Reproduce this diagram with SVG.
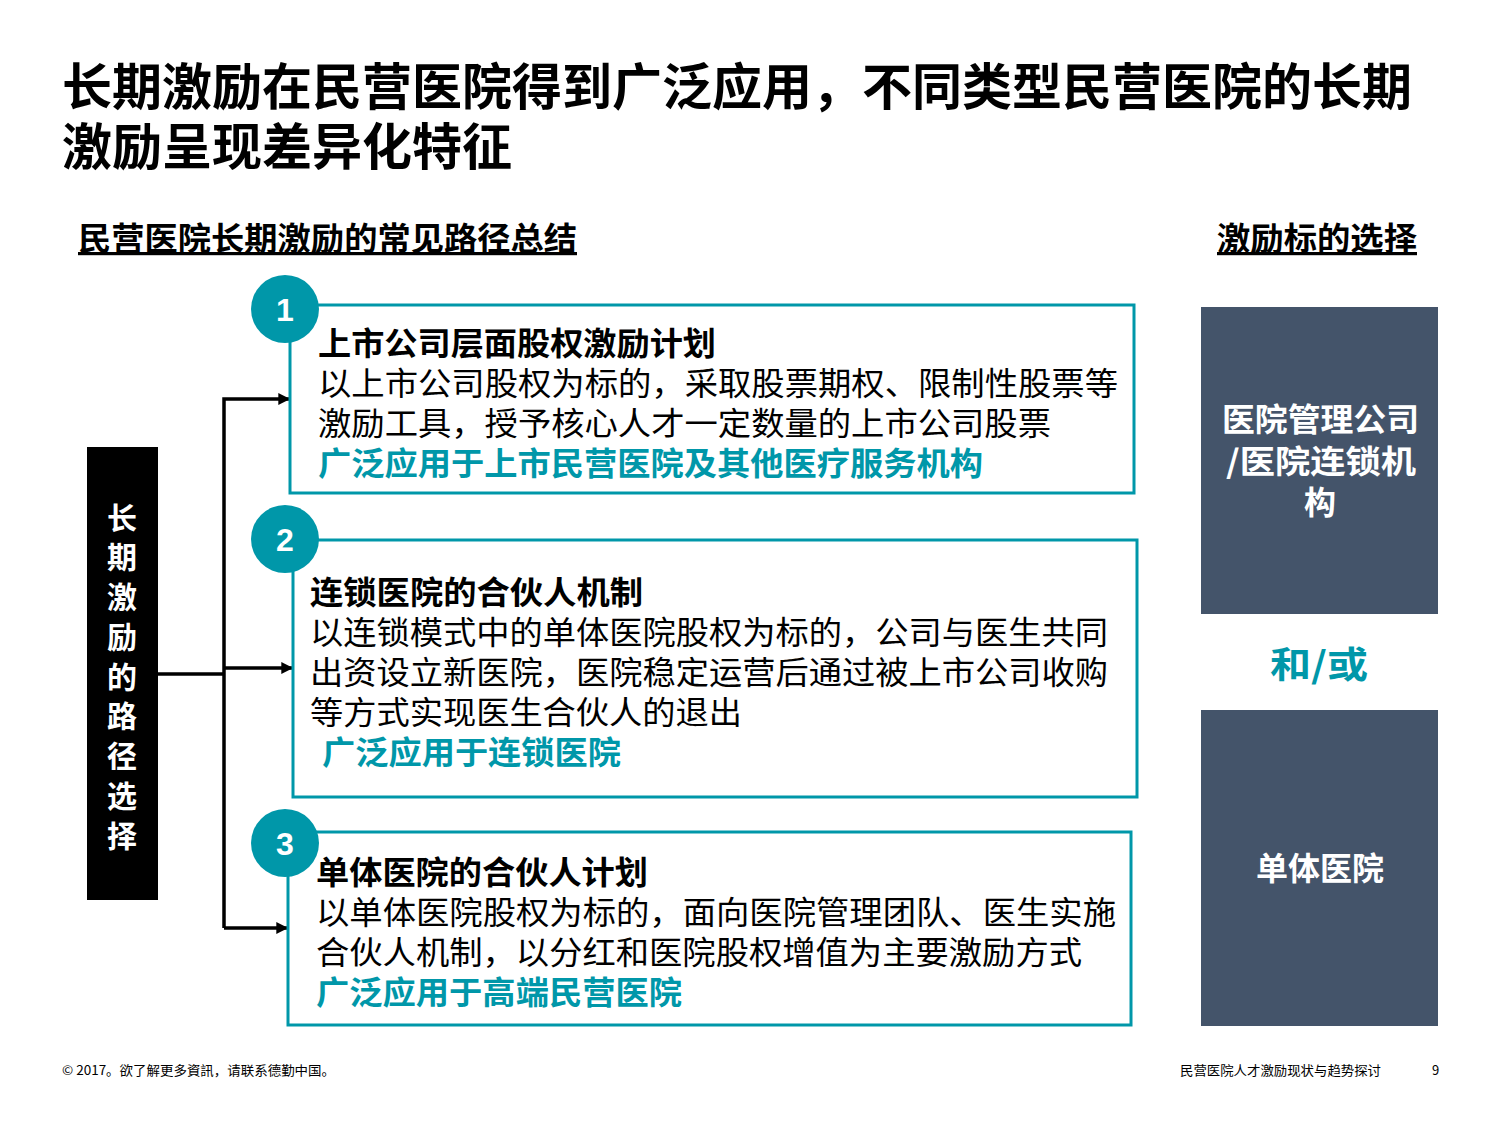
<svg xmlns="http://www.w3.org/2000/svg" width="1500" height="1125" viewBox="0 0 1500 1125">
<defs>
<style>
text{font-family:"Noto Sans CJK SC","Noto Sans",sans-serif}
.t{font-size:50px;font-weight:bold;fill:#000}
.h{font-size:32px;font-weight:bold;fill:#000;text-decoration:underline}
.bt{font-size:32px;font-weight:bold;fill:#000}
.bd{font-size:32px;fill:#000}
.tl{font-size:32px;font-weight:bold;fill:#0097A9}
.box{fill:#fff;stroke:#0097A9;stroke-width:3}
.cir{fill:#0097A9}
.num{font-size:32px;font-weight:bold;fill:#fff;font-family:"Liberation Sans","DejaVu Sans",sans-serif}
.pnl{fill:#44546A}
.pt{font-size:32px;font-weight:bold;fill:#fff}
.vt{font-size:30px;font-weight:bold;fill:#fff}
.ft{font-size:13px;fill:#000}
.ln{fill:none;stroke:#000;stroke-width:3.5}
</style>
<marker id="ah" viewBox="0 0 10 10" refX="9" refY="5" markerWidth="4.2" markerHeight="3.4" orient="auto" markerUnits="strokeWidth">
<path d="M0,0 L10,5 L0,10 z" fill="#000"/>
</marker>
</defs>
<rect width="1500" height="1125" fill="#fff"/>
<g id="title">
<text class="t" x="62" y="105" textLength="1350" lengthAdjust="spacingAndGlyphs">长期激励在民营医院得到广泛应用，不同类型民营医院的长期</text>
<text class="t" x="62" y="165" textLength="450" lengthAdjust="spacingAndGlyphs">激励呈现差异化特征</text>
</g>
<g id="headers">
<text class="h" x="78" y="250" textLength="499" lengthAdjust="spacingAndGlyphs">民营医院长期激励的常见路径总结</text>
<text class="h" x="1217" y="250" textLength="200" lengthAdjust="spacingAndGlyphs">激励标的选择</text>
</g>
<g id="connectors">
<path class="ln" d="M158,674 H224"/>
<path class="ln" d="M224,928 V399 H289" marker-end="url(#ah)"/>
<path class="ln" d="M224,668 H292" marker-end="url(#ah)"/>
<path class="ln" d="M224,928 H287" marker-end="url(#ah)"/>
</g>
<g id="root">
<rect x="87" y="447" width="71" height="453" fill="#000"/>
<text class="vt" text-anchor="middle" x="122">
<tspan x="122" y="529">长</tspan><tspan x="122" y="568">期</tspan><tspan x="122" y="608">激</tspan><tspan x="122" y="648">励</tspan><tspan x="122" y="688">的</tspan><tspan x="122" y="727">路</tspan><tspan x="122" y="767">径</tspan><tspan x="122" y="807">选</tspan><tspan x="122" y="847">择</tspan>
</text>
</g>
<g id="node1">
<rect class="box" x="290" y="305" width="844" height="188"/>
<circle class="cir" cx="285" cy="309" r="34"/>
<text class="num" x="285" y="321" text-anchor="middle">1</text>
<text class="bt" x="318" y="355" textLength="398" lengthAdjust="spacingAndGlyphs">上市公司层面股权激励计划</text>
<text class="bd" x="318" y="395" textLength="800" lengthAdjust="spacingAndGlyphs">以上市公司股权为标的，采取股票期权、限制性股票等</text>
<text class="bd" x="318" y="435" textLength="733" lengthAdjust="spacingAndGlyphs">激励工具，授予核心人才一定数量的上市公司股票</text>
<text class="tl" x="318" y="475" textLength="665" lengthAdjust="spacingAndGlyphs">广泛应用于上市民营医院及其他医疗服务机构</text>
</g>
<g id="node2">
<rect class="box" x="293" y="540" width="844" height="257"/>
<circle class="cir" cx="285" cy="539" r="34"/>
<text class="num" x="285" y="551" text-anchor="middle">2</text>
<text class="bt" x="310" y="604" textLength="333" lengthAdjust="spacingAndGlyphs">连锁医院的合伙人机制</text>
<text class="bd" x="310" y="644" textLength="798" lengthAdjust="spacingAndGlyphs">以连锁模式中的单体医院股权为标的，公司与医生共同</text>
<text class="bd" x="310" y="684" textLength="798" lengthAdjust="spacingAndGlyphs">出资设立新医院，医院稳定运营后通过被上市公司收购</text>
<text class="bd" x="310" y="724" textLength="432" lengthAdjust="spacingAndGlyphs">等方式实现医生合伙人的退出</text>
<text class="tl" x="322" y="764" textLength="299" lengthAdjust="spacingAndGlyphs">广泛应用于连锁医院</text>
</g>
<g id="node3">
<rect class="box" x="288" y="832" width="843" height="193"/>
<circle class="cir" cx="285" cy="843" r="34"/>
<text class="num" x="285" y="855" text-anchor="middle">3</text>
<text class="bt" x="316" y="884" textLength="332" lengthAdjust="spacingAndGlyphs">单体医院的合伙人计划</text>
<text class="bd" x="316" y="924" textLength="800" lengthAdjust="spacingAndGlyphs">以单体医院股权为标的，面向医院管理团队、医生实施</text>
<text class="bd" x="316" y="964" textLength="766" lengthAdjust="spacingAndGlyphs">合伙人机制，以分红和医院股权增值为主要激励方式</text>
<text class="tl" x="316" y="1004" textLength="366" lengthAdjust="spacingAndGlyphs">广泛应用于高端民营医院</text>
</g>
<g id="panelA">
<rect class="pnl" x="1201" y="307" width="237" height="307"/>
<text class="pt" x="1222" y="431" textLength="197" lengthAdjust="spacingAndGlyphs">医院管理公司</text>
<text class="pt" x="1226" y="473" textLength="190" lengthAdjust="spacingAndGlyphs">/医院连锁机</text>
<text class="pt" x="1320" y="514" text-anchor="middle">构</text>
</g>
<g id="or">
<text x="1270" y="678" textLength="98" lengthAdjust="spacingAndGlyphs" style="font-size:36px;font-weight:bold;fill:#0097A9">和/或</text>
</g>
<g id="panelB">
<rect class="pnl" x="1201" y="710" width="237" height="316"/>
<text class="pt" x="1320" y="880" text-anchor="middle">单体医院</text>
</g>
<g id="footer">
<text class="ft" x="62" y="1075" textLength="273" lengthAdjust="spacingAndGlyphs">© 2017。欲了解更多資訊，请联系德勤中国。</text>
<text class="ft" x="1180" y="1075" textLength="201" lengthAdjust="spacingAndGlyphs">民营医院人才激励现状与趋势探讨</text>
<text class="ft" x="1432" y="1075">9</text>
</g>
</svg>
